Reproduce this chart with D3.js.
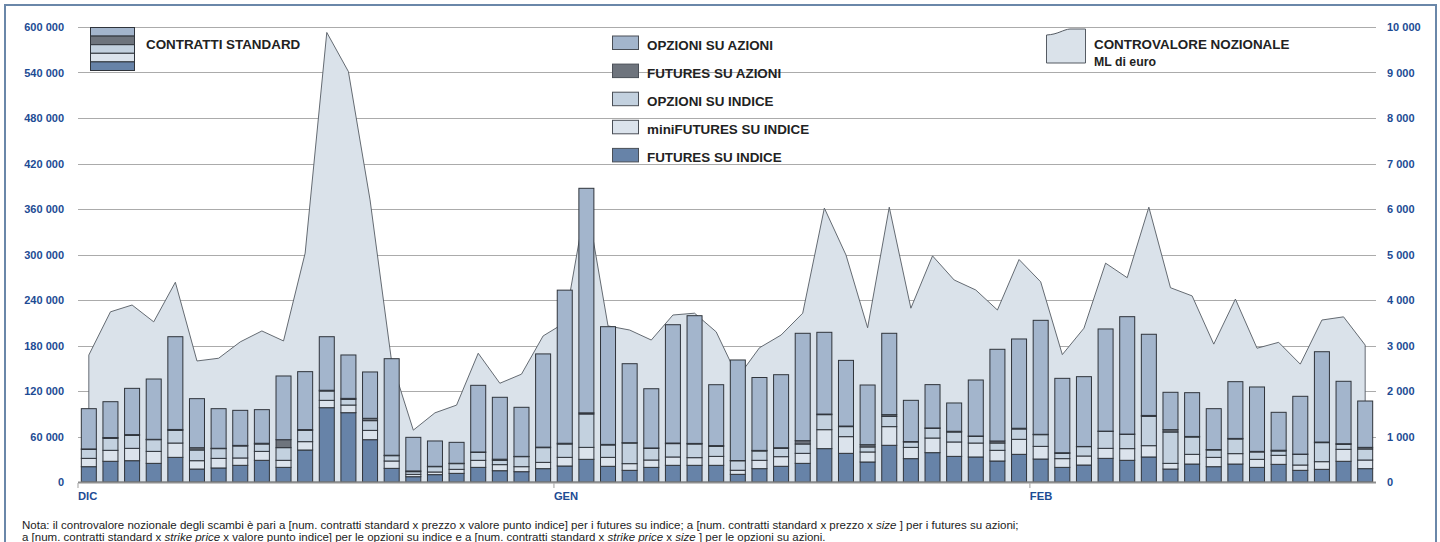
<!DOCTYPE html>
<html><head><meta charset="utf-8">
<script src="https://cdn.jsdelivr.net/npm/d3@7"></script>
<style>
html,body{margin:0;padding:0;background:#fff;}
svg{display:block;font-family:"Liberation Sans",Arial,Helvetica,sans-serif;}
</style></head><body>
<svg id="chart" width="1440" height="542"></svg>
<script>
// ---- DATA ----
const months = ["DIC", "GEN", "FEB"];
const monthSessions = [22, 22, 16];
const leftTicks = [0, 60000, 120000, 180000, 240000, 300000, 360000, 420000, 480000, 540000, 600000];
const rightTicks = [0, 1000, 2000, 3000, 4000, 5000, 6000, 7000, 8000, 9000, 10000];

// contratti standard (stacked, bottom to top)
const futuresSuIndice = [20200,27300,28100,24600,32500,17100,18500,22000,28600,19300,42200,98000,91400,55800,18000,7000,9700,11400,19300,14900,13600,17600,21100,29900,20700,15400,19300,22000,22000,22000,10100,17600,20700,24600,44000,37800,26400,48400,30800,38700,33800,33000,27700,36500,30300,19300,22400,31200,28600,33000,17100,23700,20200,23700,19300,23300,15400,16700,27300,17600];
const miniFuturesSuIndice = [11000,14500,16300,15800,18900,11000,12700,9700,11800,9300,11000,9700,10100,12300,9700,3100,3500,5300,9300,8000,6600,8300,11400,15800,11800,8800,9700,11000,10100,11800,5400,11000,12700,13200,25000,22000,13200,24600,14900,19300,19000,18400,14100,19800,16700,11500,11900,13200,15400,14900,7500,12800,12300,13700,10600,11900,7000,10100,15800,11400];
const opzioniSuIndice = [11900,15800,17100,15400,16700,14100,12800,15800,9700,16700,14900,12300,7500,12800,7000,3500,7000,7500,10500,5700,13200,19400,17600,44000,16300,27200,15400,17600,18000,13200,12500,12300,11000,12300,19800,13200,6600,13600,7100,12800,13100,8800,9600,13600,15400,7000,12300,22400,18900,38700,41300,22800,9700,19300,9700,5700,14100,25100,6600,14500];
const futuresSuAzioni = [500,1000,1000,500,1200,3000,500,800,1000,10500,1000,1000,1300,3100,600,1000,500,500,500,1500,400,700,1000,1500,800,400,500,800,800,1000,300,800,800,4400,800,800,3000,2200,500,500,1000,500,2700,1000,500,800,300,300,300,1200,3100,800,600,800,800,1000,300,800,800,2200];
const opzioniSuAzioni = [53100,47300,61000,79500,122300,64700,52200,46200,44300,84000,76400,70600,57200,61100,127300,44300,33400,27600,87900,81600,64700,122900,201900,296100,155200,104200,78100,156000,168400,80300,132600,96100,96300,141600,107800,86600,78700,107300,54400,57100,37300,73800,120900,117700,150300,98100,92000,134700,154800,107000,49300,57700,53900,74800,84900,50000,76200,119100,82300,61100];
// controvalore nozionale, ML di euro (right axis)
const controvalore = [2790,3740,3890,3520,4390,2660,2720,3080,3320,3100,5030,9880,9020,6200,2640,1140,1520,1690,2830,2170,2370,3210,3500,6200,3430,3340,3120,3670,3710,3300,2300,2950,3230,3710,6020,4990,3390,6040,3820,4970,4440,4220,3780,4890,4400,2800,3380,4810,4490,6040,4270,4090,3030,4020,2940,3070,2590,3560,3630,3010];

const seriesKeys = ["futuresSuIndice","miniFuturesSuIndice","opzioniSuIndice","futuresSuAzioni","opzioniSuAzioni"];
const seriesLabels = {
  opzioniSuAzioni: "OPZIONI SU AZIONI",
  futuresSuAzioni: "FUTURES SU AZIONI",
  opzioniSuIndice: "OPZIONI SU INDICE",
  miniFuturesSuIndice: "miniFUTURES SU INDICE",
  futuresSuIndice: "FUTURES SU INDICE"
};
const colors = {
  futuresSuIndice: "#6783a8",
  miniFuturesSuIndice: "#dbe3ec",
  opzioniSuIndice: "#c3d1df",
  futuresSuAzioni: "#6e747d",
  opzioniSuAzioni: "#a3b5cc"
};

// sessions (categories)
const sessions = [];
months.forEach((m, mi) => { for (let k = 1; k <= monthSessions[mi]; k++) sessions.push(m + " " + k); });

const table = sessions.map((s, i) => ({
  session: s, idx: i,
  futuresSuIndice: futuresSuIndice[i],
  miniFuturesSuIndice: miniFuturesSuIndice[i],
  opzioniSuIndice: opzioniSuIndice[i],
  futuresSuAzioni: futuresSuAzioni[i],
  opzioniSuAzioni: opzioniSuAzioni[i],
  controvalore: controvalore[i]
}));

// ---- CHART ----
const svg = d3.select("#chart");
const axisColor = "#1d4b94";
const x0 = 78, x1 = 1376, yTop = 27, yBase = 482;

const x = d3.scaleBand().domain(d3.range(sessions.length)).range([x0, x1]).paddingInner(0.26).paddingOuter(0.13);
const yL = d3.scaleLinear().domain([0, 600000]).range([yBase, yTop]);
const yR = d3.scaleLinear().domain([0, 10000]).range([yBase, yTop]);

// frame
svg.append("rect").attr("x", 5).attr("y", 5).attr("width", 1431).attr("height", 600)
  .attr("fill", "none").attr("stroke", "#6a87a9").attr("stroke-width", 2);

// grid
svg.append("g").selectAll("line").data(leftTicks.filter(d => d > 0)).join("line")
  .attr("x1", x0).attr("x2", x1)
  .attr("y1", d => Math.round(yL(d)) + 0.5).attr("y2", d => Math.round(yL(d)) + 0.5)
  .attr("stroke", "#ababab").attr("stroke-width", 1);

// area
const area = d3.area()
  .x(d => x(d.idx) + x.bandwidth() / 2)
  .y0(yR(0))
  .y1(d => yR(d.controvalore));
svg.append("path").datum(table).attr("d", area)
  .attr("fill", "#dae2ea").attr("stroke", "#555b63").attr("stroke-width", 0.9);

// stacked bars
const stack = d3.stack().keys(seriesKeys)(table);
svg.append("g").selectAll("g").data(stack).join("g")
  .attr("fill", d => colors[d.key])
  .selectAll("rect").data(d => d).join("rect")
  .attr("x", (d, i) => x(i) + 0.5)
  .attr("width", x.bandwidth() - 1)
  .attr("y", d => yL(d[1]))
  .attr("height", d => Math.max(0, yL(d[0]) - yL(d[1])))
  .attr("stroke", "#2f343b").attr("stroke-width", 1);

// baseline
svg.append("line").attr("x1", x0).attr("x2", x1).attr("y1", yBase + 0.5).attr("y2", yBase + 0.5)
  .attr("stroke", "#8e8e8e").attr("stroke-width", 2);

// left axis
const fmt = d => d3.format(",")(d).replace(/,/g, " ");
const gL = svg.append("g").attr("transform", `translate(${x0},0)`)
  .call(d3.axisLeft(yL).tickValues(leftTicks).tickSize(0).tickPadding(14).tickFormat(fmt));
gL.select(".domain").remove();
gL.selectAll("text").attr("fill", axisColor).attr("font-size", 11).attr("font-weight", "bold")
  .attr("font-family", "Liberation Sans, Arial, sans-serif");

// right axis
const gR = svg.append("g").attr("transform", `translate(${x1},0)`)
  .call(d3.axisRight(yR).tickValues(rightTicks).tickSize(0).tickPadding(11).tickFormat(fmt));
gR.select(".domain").remove();
gR.selectAll("text").attr("fill", axisColor).attr("font-size", 11).attr("font-weight", "bold")
  .attr("font-family", "Liberation Sans, Arial, sans-serif");

// month ticks & labels
let start = 0;
const monthPos = months.map((m, i) => { const s = start; start += monthSessions[i]; return { m, s }; });
const half = x.step() * x.paddingInner() / 2;
const mg = svg.append("g");
monthPos.forEach(p => {
  const px = x(p.s) - half;
  mg.append("line").attr("x1", px).attr("x2", px).attr("y1", yBase + 1).attr("y2", yBase + 6)
    .attr("stroke", "#b0b0b0").attr("stroke-width", 1.2);
  mg.append("text").attr("x", px).attr("y", yBase + 18).text(p.m)
    .attr("fill", axisColor).attr("font-size", 11.2).attr("font-weight", "bold");
});

// legend: contratti standard swatch
const swKeys = ["opzioniSuAzioni","futuresSuAzioni","opzioniSuIndice","miniFuturesSuIndice","futuresSuIndice"];
const swX = 90.5, swY = 27.5, swW = 44, swH = 8.6;
swKeys.forEach((k, i) => {
  svg.append("rect").attr("x", swX).attr("y", swY + i * swH).attr("width", swW).attr("height", swH)
    .attr("fill", colors[k]).attr("stroke", "#2f343b").attr("stroke-width", 1);
});
svg.append("text").attr("x", 146).attr("y", 49.3).text("CONTRATTI STANDARD")
  .attr("font-size", 13.4).attr("font-weight", "bold").attr("fill", "#222");

// legend: series
const lg = svg.append("g");
swKeys.forEach((k, i) => {
  const yy = 36 + i * 28.1;
  lg.append("rect").attr("x", 612.5).attr("y", yy).attr("width", 26).attr("height", 13.5)
    .attr("fill", colors[k]).attr("stroke", "#4a4f57").attr("stroke-width", 1);
  lg.append("text").attr("x", 647).attr("y", yy + 13.6).text(seriesLabels[k])
    .attr("font-size", 13.4).attr("font-weight", "bold").attr("fill", "#222");
});

// legend: controvalore
svg.append("path").attr("d", "M1046.5,35 C1058,34.5 1063,29.5 1070,29 L1085.5,29 L1085.5,63 L1046.5,63 Z")
  .attr("fill", "#dae2ea").attr("stroke", "#555b63").attr("stroke-width", 1);
svg.append("text").attr("x", 1094).attr("y", 49.3).text("CONTROVALORE NOZIONALE")
  .attr("font-size", 13.4).attr("font-weight", "bold").attr("fill", "#222");
svg.append("text").attr("x", 1094).attr("y", 66).text("ML di euro")
  .attr("font-size", 12.3).attr("font-weight", "bold").attr("fill", "#222");

// note
const n1 = svg.append("text").attr("x", 22).attr("y", 529).attr("font-size", 11.5).attr("fill", "#222");
n1.append("tspan").text("Nota: il controvalore nozionale degli scambi è pari a [num. contratti standard x prezzo x valore punto indice] per i futures su indice; a [num. contratti standard x prezzo x ");
n1.append("tspan").attr("font-style", "italic").text("size");
n1.append("tspan").text(" ] per i futures su azioni;");
const n2 = svg.append("text").attr("x", 22).attr("y", 541).attr("font-size", 11.5).attr("fill", "#222");
n2.append("tspan").text("a [num. contratti standard x ");
n2.append("tspan").attr("font-style", "italic").text("strike price");
n2.append("tspan").text("  x valore punto indice] per le opzioni su indice e a [num. contratti standard x ");
n2.append("tspan").attr("font-style", "italic").text("strike price");
n2.append("tspan").text("  x ");
n2.append("tspan").attr("font-style", "italic").text("size");
n2.append("tspan").text(" ] per le opzioni su azioni.");
</script>
</body></html>
